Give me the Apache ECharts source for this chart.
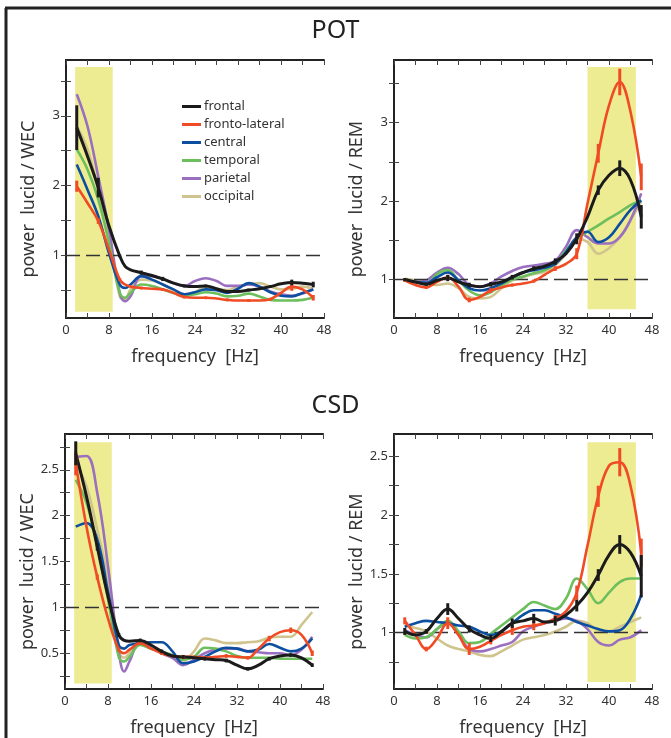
<!DOCTYPE html>
<html>
<head>
<meta charset="utf-8">
<script src="https://cdn.jsdelivr.net/npm/echarts@6/dist/echarts.min.js"></script>
<style>
    html, body { margin: 0; padding: 0; background: #fff; }
    #chart { width: 671px; height: 738px; }
</style>
</head>
<body>
<div id="chart"></div>
<script>
// frequencies (Hz)
var freqWake = [2, 4, 6, 8, 10, 11, 12, 14, 16, 18, 20, 22, 24, 26, 28, 30, 32, 34, 36, 38, 40, 42, 44, 46];
var freqRem = [2, 4, 6, 8, 10, 12, 14, 16, 18, 20, 22, 24, 26, 28, 30, 32, 34, 36, 38, 40, 42, 44, 46];
var errFreq = [2, 6, 10, 14, 18, 22, 26, 30, 34, 38, 42, 46];
var regions = ['frontal', 'fronto-lateral', 'central', 'temporal', 'parietal', 'occipital'];
var xTicks = [0, 8, 16, 24, 32, 40, 48];

// POT, lucid / WEC
var potWecFrontal = [2.83, 2.42, 1.97, 1.42, 0.99, 0.84, 0.79, 0.75, 0.71, 0.66, 0.60, 0.56, 0.55, 0.56, 0.52, 0.48, 0.48, 0.50, 0.52, 0.55, 0.59, 0.61, 0.60, 0.58];
var potWecFrontoLat = [1.99, 1.75, 1.49, 1.08, 0.65, 0.58, 0.55, 0.53, 0.52, 0.51, 0.46, 0.40, 0.39, 0.39, 0.38, 0.36, 0.35, 0.35, 0.35, 0.37, 0.46, 0.55, 0.51, 0.39];
var potWecCentral = [2.30, 1.94, 1.56, 1.03, 0.58, 0.53, 0.58, 0.70, 0.65, 0.58, 0.51, 0.44, 0.47, 0.51, 0.50, 0.46, 0.52, 0.60, 0.55, 0.47, 0.42, 0.41, 0.46, 0.51];
var potWecTemporal = [2.52, 2.23, 1.80, 1.18, 0.46, 0.39, 0.46, 0.58, 0.56, 0.51, 0.46, 0.42, 0.44, 0.47, 0.45, 0.41, 0.42, 0.45, 0.41, 0.36, 0.35, 0.35, 0.36, 0.39];
var potWecParietal = [3.31, 2.85, 2.13, 1.37, 0.46, 0.34, 0.41, 0.70, 0.70, 0.66, 0.60, 0.56, 0.63, 0.67, 0.63, 0.56, 0.56, 0.58, 0.55, 0.48, 0.44, 0.42, 0.45, 0.51];
var potWecOccipital = [2.85, 2.52, 1.94, 1.27, 0.41, 0.37, 0.51, 0.65, 0.64, 0.58, 0.50, 0.44, 0.47, 0.55, 0.52, 0.50, 0.55, 0.58, 0.60, 0.55, 0.51, 0.52, 0.55, 0.52];
var potWecErrFrontal = [0.32, 0.14, 0.02, 0.03, 0.03, 0.02, 0.02, 0.02, 0.02, 0.02, 0.04, 0.04];
var potWecErrFrontoLat = [0.08, 0.04, 0.02, 0.02, 0.02, 0.02, 0.02, 0.02, 0.02, 0.02, 0.06, 0.04];

// POT, lucid / REM
var potRemFrontal = [1.00, 0.97, 0.94, 0.99, 1.02, 0.97, 0.93, 0.91, 0.94, 0.97, 1.03, 1.09, 1.14, 1.17, 1.23, 1.33, 1.52, 1.80, 2.14, 2.33, 2.42, 2.27, 1.80];
var potRemFrontoLat = [0.99, 0.93, 0.90, 0.97, 1.03, 0.91, 0.74, 0.78, 0.86, 0.90, 0.93, 0.95, 0.98, 1.06, 1.14, 1.20, 1.33, 1.97, 2.61, 3.22, 3.52, 3.14, 2.31];
var potRemCentral = [0.99, 0.97, 0.96, 1.03, 1.09, 0.99, 0.89, 0.86, 0.89, 0.95, 1.03, 1.09, 1.12, 1.15, 1.20, 1.35, 1.54, 1.61, 1.48, 1.54, 1.71, 1.89, 2.01];
var potRemTemporal = [1.00, 0.97, 0.95, 1.07, 1.12, 0.99, 0.86, 0.80, 0.84, 0.93, 1.00, 1.04, 1.08, 1.12, 1.20, 1.37, 1.52, 1.61, 1.69, 1.78, 1.86, 1.95, 2.01];
var potRemParietal = [0.99, 0.97, 0.99, 1.09, 1.15, 1.07, 0.93, 0.91, 0.95, 1.04, 1.11, 1.16, 1.18, 1.20, 1.24, 1.42, 1.63, 1.54, 1.46, 1.46, 1.54, 1.76, 2.10];
var potRemOccipital = [1.01, 0.99, 0.95, 0.93, 0.95, 0.89, 0.78, 0.76, 0.78, 0.89, 0.99, 1.03, 1.07, 1.10, 1.18, 1.33, 1.52, 1.48, 1.33, 1.40, 1.54, 1.76, 1.99];
var potRemErrFrontal = [0.02, 0.02, 0.04, 0.03, 0.03, 0.03, 0.03, 0.04, 0.07, 0.06, 0.10, 0.15];
var potRemErrFrontoLat = [0.02, 0.02, 0.03, 0.03, 0.03, 0.02, 0.02, 0.03, 0.07, 0.12, 0.17, 0.17];

// CSD, lucid / WEC
var csdWecFrontal = [2.68, 2.21, 1.66, 1.12, 0.70, 0.64, 0.63, 0.64, 0.59, 0.52, 0.47, 0.46, 0.45, 0.44, 0.43, 0.42, 0.37, 0.33, 0.37, 0.44, 0.47, 0.48, 0.45, 0.37];
var csdWecFrontoLat = [2.57, 1.88, 1.33, 0.88, 0.54, 0.50, 0.54, 0.61, 0.55, 0.50, 0.47, 0.46, 0.46, 0.45, 0.46, 0.47, 0.46, 0.45, 0.55, 0.66, 0.73, 0.75, 0.70, 0.50];
var csdWecCentral = [1.88, 1.92, 1.74, 1.17, 0.59, 0.55, 0.59, 0.61, 0.62, 0.62, 0.52, 0.39, 0.41, 0.46, 0.52, 0.56, 0.55, 0.52, 0.54, 0.60, 0.56, 0.52, 0.55, 0.66];
var csdWecTemporal = [2.39, 2.14, 1.67, 1.09, 0.46, 0.41, 0.46, 0.59, 0.55, 0.52, 0.48, 0.43, 0.46, 0.56, 0.55, 0.52, 0.47, 0.45, 0.45, 0.45, 0.44, 0.44, 0.44, 0.44];
var csdWecParietal = [2.64, 2.65, 2.25, 1.45, 0.52, 0.30, 0.41, 0.63, 0.57, 0.50, 0.45, 0.37, 0.43, 0.50, 0.54, 0.55, 0.55, 0.52, 0.51, 0.50, 0.50, 0.48, 0.54, 0.68];
var csdWecOccipital = [2.57, 2.32, 1.85, 1.31, 0.52, 0.45, 0.50, 0.62, 0.57, 0.50, 0.45, 0.42, 0.52, 0.66, 0.64, 0.61, 0.61, 0.62, 0.63, 0.67, 0.68, 0.68, 0.81, 0.95];
var csdWecErrFrontal = [0.13, 0.04, 0.02, 0.02, 0.02, 0.02, 0.02, 0.02, 0.02, 0.02, 0.02, 0.02];
var csdWecErrFrontoLat = [0.13, 0.03, 0.02, 0.02, 0.02, 0.02, 0.02, 0.02, 0.02, 0.03, 0.03, 0.03];

// CSD, lucid / REM
var csdRemFrontal = [1.01, 0.98, 1.01, 1.12, 1.20, 1.12, 1.03, 0.98, 0.95, 1.01, 1.08, 1.10, 1.12, 1.09, 1.10, 1.15, 1.23, 1.34, 1.49, 1.66, 1.75, 1.68, 1.48];
var csdRemFrontoLat = [1.10, 0.98, 0.86, 0.95, 1.08, 0.98, 0.86, 0.88, 0.93, 0.98, 1.02, 1.05, 1.06, 1.08, 1.12, 1.18, 1.34, 1.74, 2.16, 2.42, 2.45, 2.25, 1.68];
var csdRemCentral = [1.05, 1.08, 1.10, 1.09, 1.08, 1.06, 1.05, 1.01, 0.98, 1.01, 1.08, 1.15, 1.19, 1.19, 1.16, 1.13, 1.09, 1.06, 1.03, 1.01, 1.02, 1.12, 1.32];
var csdRemTemporal = [0.98, 0.95, 0.96, 1.03, 1.10, 1.01, 0.91, 0.92, 0.99, 1.06, 1.13, 1.20, 1.26, 1.23, 1.20, 1.29, 1.46, 1.37, 1.25, 1.34, 1.43, 1.46, 1.46];
var csdRemParietal = [1.02, 0.98, 0.96, 1.03, 1.09, 0.98, 0.86, 0.84, 0.86, 0.89, 0.92, 1.01, 1.05, 1.08, 1.10, 1.12, 1.10, 1.03, 0.92, 0.89, 0.94, 0.96, 1.02];
var csdRemOccipital = [1.06, 1.04, 1.01, 0.95, 0.89, 0.86, 0.84, 0.81, 0.80, 0.84, 0.89, 0.94, 0.96, 0.98, 1.01, 1.05, 1.10, 1.08, 1.02, 1.01, 1.05, 1.09, 1.13];
var csdRemErrFrontal = [0.03, 0.02, 0.05, 0.03, 0.03, 0.04, 0.04, 0.04, 0.05, 0.05, 0.08, 0.18];
var csdRemErrFrontoLat = [0.03, 0.02, 0.05, 0.05, 0.03, 0.04, 0.04, 0.03, 0.06, 0.09, 0.12, 0.12];

var colors = {
    'frontal': '#1b1b1b',
    'fronto-lateral': '#f04b24',
    'central': '#0c4fa0',
    'temporal': '#6cbf5c',
    'parietal': '#9a6fc0',
    'occipital': '#d0c48e'
};

var panels = [
    {
        grid: {left: 66, top: 60, width: 258, height: 258},
        yName: 'power  lucid / WEC', yMin: 0.1, yMax: 3.8,
        yTicks: [0.5, 1, 1.5, 2, 2.5, 3, 3.5], yLabels: [1, 2, 3],
        band: [1.7, 0.19, 8.7, 3.7],
        freq: freqWake,
        lines: [potWecFrontal, potWecFrontoLat, potWecCentral, potWecTemporal, potWecParietal, potWecOccipital],
        errs: [potWecErrFrontal, potWecErrFrontoLat]
    },
    {
        grid: {left: 394, top: 60, width: 258, height: 258},
        yName: 'power  lucid / REM', yMin: 0.51, yMax: 3.8,
        yTicks: [1, 1.5, 2, 2.5, 3, 3.5], yLabels: [1, 2, 3],
        band: [36, 0.62, 45, 3.71],
        freq: freqRem,
        lines: [potRemFrontal, potRemFrontoLat, potRemCentral, potRemTemporal, potRemParietal, potRemOccipital],
        errs: [potRemErrFrontal, potRemErrFrontoLat]
    },
    {
        grid: {left: 65, top: 434, width: 258, height: 257},
        yName: 'power  lucid / WEC', yMin: 0.11, yMax: 2.89,
        yTicks: [0.25, 0.5, 0.75, 1, 1.25, 1.5, 1.75, 2, 2.25, 2.5, 2.75], yLabels: [0.5, 1, 1.5, 2, 2.5],
        band: [1.7, 0.17, 8.7, 2.8],
        freq: freqWake,
        lines: [csdWecFrontal, csdWecFrontoLat, csdWecCentral, csdWecTemporal, csdWecParietal, csdWecOccipital],
        errs: [csdWecErrFrontal, csdWecErrFrontoLat]
    },
    {
        grid: {left: 394, top: 434, width: 258, height: 257},
        yName: 'power  lucid / REM', yMin: 0.52, yMax: 2.69,
        yTicks: [0.75, 1, 1.25, 1.5, 1.75, 2, 2.25, 2.5], yLabels: [1, 1.5, 2, 2.5],
        band: [36, 0.58, 45, 2.62],
        freq: freqRem,
        lines: [csdRemFrontal, csdRemFrontoLat, csdRemCentral, csdRemTemporal, csdRemParietal, csdRemOccipital],
        errs: [csdRemErrFrontal, csdRemErrFrontoLat]
    }
];

var font = '"Noto Sans", "Open Sans", sans-serif';
var grids = [], xAxes = [], yAxes = [], series = [];

panels.forEach(function (p, i) {
    grids.push(p.grid);
    var ax = {
        type: 'value', min: 0, max: 48, interval: 4,
        axisLine: {show: true, lineStyle: {color: '#222', width: 2}},
        axisTick: {show: true, inside: true, length: 5, lineStyle: {color: '#444', width: 1}},
        splitLine: {show: false}
    };
    xAxes.push(Object.assign({}, ax, {
        gridIndex: i, position: 'bottom',
        name: 'frequency  [Hz]', nameLocation: 'middle', nameGap: 30,
        nameTextStyle: {fontSize: 18, color: '#333', fontFamily: font},
        axisLabel: {
            color: '#333', fontSize: 13, fontFamily: font, margin: 6,
            customValues: xTicks
        }
    }));
    xAxes.push(Object.assign({}, ax, {
        gridIndex: i, position: 'top', axisLabel: {show: false}
    }));
    var ay = {
        type: 'value', min: p.yMin, max: p.yMax,
        axisLine: {show: true, lineStyle: {color: '#222', width: 2}},
        axisTick: {show: true, inside: true, length: 5, lineStyle: {color: '#444', width: 1}, customValues: p.yTicks},
        splitLine: {show: false}
    };
    yAxes.push(Object.assign({}, ay, {
        gridIndex: i, position: 'left',
        name: p.yName, nameLocation: 'middle', nameGap: 28, nameRotate: 90,
        nameTextStyle: {fontSize: 18, color: '#333', fontFamily: font, padding: [0, 0, 0, -20]},
        axisLabel: {color: '#333', fontSize: 13, fontFamily: font, margin: 6, customValues: p.yLabels}
    }));
    yAxes.push(Object.assign({}, ay, {
        gridIndex: i, position: 'right', axisLabel: {show: false}
    }));

    // shaded band + reference line at 1
    series.push({
        type: 'line', xAxisIndex: 2 * i, yAxisIndex: 2 * i, data: [], z: 1,
        silent: true,
        markArea: {
            silent: true,
            itemStyle: {color: '#eeec92'},
            data: [[{coord: [p.band[0], p.band[1]]}, {coord: [p.band[2], p.band[3]]}]]
        },
        markLine: {
            silent: true, symbol: 'none', label: {show: false},
            lineStyle: {color: '#333', width: 1.3, type: [14, 6]},
            data: [{yAxis: 1}]
        }
    });

    // curves, frontal drawn last
    for (var k = regions.length - 1; k >= 0; k--) {
        var name = regions[k];
        var vals = p.lines[k];
        series.push({
            name: name, type: 'line', xAxisIndex: 2 * i, yAxisIndex: 2 * i,
            smooth: 0.4, showSymbol: false, z: 2 + (regions.length - k),
            lineStyle: {color: colors[name], width: name === 'frontal' ? 3 : 2.6},
            itemStyle: {color: colors[name]},
            data: p.freq.map(function (f, j) { return [f, vals[j]]; })
        });
    }

    // error bars for frontal and fronto-lateral
    [1, 0].forEach(function (k) {
        var vals = p.lines[k];
        var errs = p.errs[k];
        var c = colors[regions[k]];
        series.push({
            type: 'custom', xAxisIndex: 2 * i, yAxisIndex: 2 * i, z: 20, silent: true,
            encode: {x: 0, y: [1, 2]},
            data: errFreq.map(function (f, j) {
                var v = vals[p.freq.indexOf(f)];
                return [f, v - errs[j], v + errs[j]];
            }),
            renderItem: function (params, api) {
                var a = api.coord([api.value(0), api.value(1)]);
                var b = api.coord([api.value(0), api.value(2)]);
                return {
                    type: 'line',
                    shape: {x1: a[0], y1: a[1], x2: b[0], y2: b[1]},
                    style: {stroke: c, lineWidth: 3}
                };
            }
        });
    });
});

var myChart = echarts.init(document.getElementById('chart'));
var option = {
    backgroundColor: '#fff',
    animation: false,
    title: [
        {text: 'POT', left: 'center', top: 13, textStyle: {fontSize: 25, fontWeight: 'normal', color: '#222', fontFamily: font}},
        {text: 'CSD', left: 'center', top: 388, textStyle: {fontSize: 25, fontWeight: 'normal', color: '#222', fontFamily: font}}
    ],
    legend: {
        data: regions, orient: 'vertical', left: 177, top: 95,
        icon: 'rect', itemWidth: 19, itemHeight: 3, itemGap: 5,
        textStyle: {fontSize: 13, color: '#333', fontFamily: font, padding: [0, 0, 0, -2]}
    },
    graphic: [
        {type: 'line', shape: {x1: 5, y1: 8, x2: 671, y2: 8}, style: {stroke: '#222', lineWidth: 3}},
        {type: 'line', shape: {x1: 6, y1: 8, x2: 6, y2: 738}, style: {stroke: '#222', lineWidth: 3}}
    ],
    grid: grids,
    xAxis: xAxes,
    yAxis: yAxes,
    series: series
};
myChart.setOption(option);
</script>
</body>
</html>
